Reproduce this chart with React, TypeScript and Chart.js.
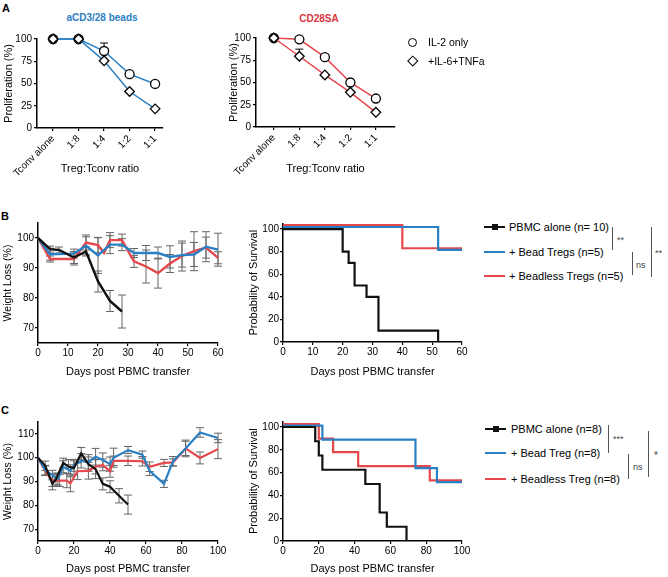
import React, { useEffect, useRef } from "react";
import { Chart, registerables } from "chart.js";
Chart.register(...registerables);

const FONT = "'Liberation Sans', Arial, Helvetica, sans-serif";
const BLUE = "#2a80c4";
const RED = "#e5474b";
const BLACK = "#111111";

// ---------- Panel A data ----------
const ratioLabels = ["Tconv alone", "1:8", "1:4", "1:2", "1:1"];
const ratioPos = [0, 1, 2, 3, 4];
const beadsIL2 = [100, 100, 86.5, 60.5, 49.5];
const beadsIL2Err = [0, 0, 9, 0, 2];
const beadsIL6 = [100, 100, 75.5, 41, 21.5];
const saIL2 = [100, 98.5, 78.5, 50, 32];
const saIL6 = [100, 79.5, 58.5, 39, 16.5];
const saIL6Err = [0, 8, 0, 0, 0];
const propTicks = [0, 25, 50, 75, 100];

// ---------- Panel B data ----------
const blackDaysB = [0, 4, 7, 12, 16, 20, 24, 28];
const blackWeightB = [100, 96.3, 96, 93.5, 95.5, 85.5, 79, 75.5];
const blackErrB = [0, 1, 1, 2, 1.5, 3.5, 3.5, 5.5];
const blueDaysB = [0, 4, 12, 16, 20, 24, 28, 32, 36, 40, 44, 48, 52, 56, 60];
const blueWeightB = [100, 94.6, 94.8, 97.4, 94.2, 97.8, 97.8, 95, 95, 95, 93.7, 94.3, 94.5, 97.1, 96.1];
const blueErrB = [0, 2, 1.5, 3, 6, 3, 2, 1.5, 2.5, 2, 3.7, 4, 4, 5, 5.5];
const redDaysB = [0, 4, 12, 16, 20, 22, 24, 28, 32, 36, 40, 44, 48, 52, 56, 60];
const redWeightB = [100, 93, 93, 98.5, 97.6, 95, 99.3, 99.3, 92.2, 90.5, 88.3, 91.5, 94, 95.6, 96.8, 93.4];
const redErrB = [0, 1, 2, 2.5, 2.5, 0, 2.5, 2, 2, 5.5, 5, 3, 5, 6.5, 3.5, 2];
const weightTicksB = [70, 80, 90, 100];
const dayTicksB = [0, 10, 20, 30, 40, 50, 60];

const blackSurvDaysB = [0, 20, 22, 24, 28, 32, 52];
const blackSurvB = [100, 80, 70, 50, 40, 10, 0];
const blueSurvDaysB = [0, 52, 60];
const blueSurvB = [101.8, 81.5, 81.5];
const redSurvDaysB = [0, 40, 60];
const redSurvB = [103.5, 83, 83];
const survTicks = [0, 20, 40, 60, 80, 100];

// ---------- Panel C data ----------
const blackDaysC = [0, 4, 8, 10, 14, 17, 20, 24, 28, 32, 36, 40, 45, 50];
const blackWeightC = [100, 96.6, 89, 91, 97.8, 96.2, 95.7, 101.8, 97.3, 95.2, 89, 87.8, 84, 80.3];
const blackErrC = [0, 2, 2.5, 2.5, 2, 3, 3, 2.5, 3, 4, 2.5, 2.5, 3, 4];
const blueDaysC = [0, 4, 8, 11, 14, 18, 20, 24, 28, 32, 36, 40, 42, 50, 58, 62, 70, 75, 82, 90, 100];
const blueWeightC = [100, 94.8, 92.7, 91, 96.2, 94.5, 96.8, 98.7, 98.3, 100.4, 99, 97.3, 100, 103.2, 101.3, 94.5, 89, 98.5, 103.9, 110.6, 108.3];
const blueErrC = [0, 2, 2, 2.5, 2.5, 2.5, 2.5, 3, 3, 3.5, 3, 3, 4, 1.5, 1.5, 2, 1.5, 2, 3.5, 2, 2];
const redDaysC = [0, 4, 8, 12, 16, 18, 22, 28, 32, 36, 40, 42, 50, 58, 62, 70, 75, 82, 90, 100];
const redWeightC = [100, 94.5, 90.4, 90.4, 90.4, 89.2, 94.3, 94.5, 96.2, 97, 94.3, 98.7, 98.7, 98.5, 96.2, 97.8, 98, 103.9, 99.9, 103.6];
const redErrC = [0, 2, 2.5, 2.5, 3, 3.5, 3.5, 3.5, 3, 2.5, 2.5, 2, 2, 2, 2, 1.5, 1.5, 3, 2.5, 4];
const weightTicksC = [70, 80, 90, 100, 110];
const dayTicksC = [0, 20, 40, 60, 80, 100];

const blackSurvDaysC = [0, 18, 20, 22, 46, 54, 58, 69];
const blackSurvC = [100, 87.5, 75, 62.5, 50, 25, 12.5, 0];
const blueSurvDaysC = [0, 22, 74, 86, 100];
const blueSurvC = [101.2, 89, 64, 51.7, 51.7];
const redSurvDaysC = [0, 20, 28, 42, 82, 100];
const redSurvC = [102.6, 89.8, 78, 65.6, 53.2, 53.2];

const pts = (xs: number[], ys: number[]) => xs.map((x, i) => ({ x, y: ys[i] }));

const errorBarPlugin = {
  id: "errorBars",
  beforeDatasetsDraw(chart: any) {
    const ctx = chart.ctx;
    const ys = chart.scales.y;
    chart.data.datasets.forEach((ds: any, i: number) => {
      const errs = ds.errors;
      if (!errs) return;
      const meta = chart.getDatasetMeta(i);
      ctx.save();
      ctx.strokeStyle = ds.errorColor || "#555";
      ctx.lineWidth = 1;
      meta.data.forEach((pt: any, j: number) => {
        const e = errs[j];
        if (!e) return;
        const raw = ds.data[j];
        const v = typeof raw === "number" ? raw : raw.y;
        const top = ys.getPixelForValue(v + e);
        const bot = ds.errorUpOnly ? pt.y : ys.getPixelForValue(v - e);
        const x = pt.x;
        const w = ds.capWidth ?? 4;
        ctx.beginPath();
        ctx.moveTo(x, top);
        ctx.lineTo(x, bot);
        ctx.moveTo(x - w, top);
        ctx.lineTo(x + w, top);
        if (!ds.errorUpOnly) {
          ctx.moveTo(x - w, bot);
          ctx.lineTo(x + w, bot);
        }
        ctx.stroke();
      });
      ctx.restore();
    });
  },
};

type Cfg = {
  datasets: any[];
  xMin: number; xMax: number; xTicks: number[]; xLabels?: string[]; xRotate?: boolean;
  yMin: number; yMax: number; yTicks: number[];
  yWidth: number; xHeight: number; padTop: number; padRight: number;
  xTitle: string; yTitle: string; titleSize: number; tickSize: number; tickPad: number; xTitleSize?: number;
};

function buildConfig(p: Cfg): any {
  const gridCommon = { display: true, drawOnChartArea: false, drawTicks: true, tickLength: 3, color: "#000", lineWidth: 1.2 };
  return {
    type: "line",
    data: { datasets: p.datasets },
    plugins: [errorBarPlugin],
    options: {
      responsive: false,
      animation: false,
      events: [],
      layout: { padding: { top: p.padTop, right: p.padRight, left: 0, bottom: 0 } },
      plugins: { legend: { display: false }, tooltip: { enabled: false } },
      scales: {
        x: {
          type: "linear",
          min: p.xMin,
          max: p.xMax,
          afterBuildTicks: (s: any) => { s.ticks = p.xTicks.map((v) => ({ value: v })); },
          afterFit: (s: any) => { s.height = p.xHeight; },
          grid: gridCommon,
          border: { display: true, color: "#000", width: 1.5 },
          ticks: {
            color: "#000",
            font: { family: FONT, size: p.tickSize },
            padding: p.tickPad,
            autoSkip: false,
            minRotation: p.xRotate ? 45 : 0,
            maxRotation: p.xRotate ? 45 : 0,
            callback: (v: any) => (p.xLabels ? p.xLabels[v] ?? "" : String(v)),
          },
          title: { display: true, text: p.xTitle, color: "#000", font: { family: FONT, size: p.xTitleSize ?? p.titleSize }, padding: { top: 0, bottom: 1 } },
        },
        y: {
          type: "linear",
          min: p.yMin,
          max: p.yMax,
          afterBuildTicks: (s: any) => { s.ticks = p.yTicks.map((v) => ({ value: v })); },
          afterFit: (s: any) => { s.width = p.yWidth; },
          grid: gridCommon,
          border: { display: true, color: "#000", width: 1.5 },
          ticks: { color: "#000", font: { family: FONT, size: p.tickSize }, padding: p.tickPad },
          title: { display: true, text: p.yTitle, color: "#000", font: { family: FONT, size: p.titleSize }, padding: { top: 2, bottom: 0 } },
        },
      },
    },
  };
}

function ChartBox({ left, top, width, height, config }: { left: number; top: number; width: number; height: number; config: any }) {
  const ref = useRef<HTMLCanvasElement | null>(null);
  useEffect(() => {
    const c = new Chart(ref.current as HTMLCanvasElement, config);
    return () => c.destroy();
  }, []);
  return <canvas ref={ref} width={width} height={height} style={{ position: "absolute", left, top, width, height }} />;
}

const lineDs = (xs: number[], ys: number[], color: string, width: number, extra: any = {}) => ({
  data: pts(xs, ys),
  borderColor: color,
  borderWidth: width,
  pointRadius: 0,
  fill: false,
  tension: 0,
  clip: false,
  ...extra,
});

const markerDs = (ys: number[], color: string, style: string, radius: number, extra: any = {}) => ({
  data: pts(ratioPos, ys),
  borderColor: color,
  borderWidth: 1.5,
  pointStyle: style,
  pointRadius: radius,
  pointBackgroundColor: "#fff",
  pointBorderColor: "#000",
  pointBorderWidth: 1.3,
  fill: false,
  tension: 0,
  clip: false,
  ...extra,
});

function Txt({ x, y, children, size = 11, bold = false, color = "#000", center = false }: any) {
  return (
    <div
      style={{
        position: "absolute",
        left: x,
        top: y,
        transform: center ? "translate(-50%,-50%)" : "translate(0,-50%)",
        fontSize: size,
        fontWeight: bold ? 700 : 400,
        color,
        whiteSpace: "nowrap",
        lineHeight: 1,
        fontFamily: FONT,
      }}
    >
      {children}
    </div>
  );
}

function VLine({ x, y1, y2 }: any) {
  return <div style={{ position: "absolute", left: x, top: y1, width: 1, height: y2 - y1, background: "#555" }} />;
}

function LegLine({ x, y, color, square = false }: any) {
  return (
    <>
      <div style={{ position: "absolute", left: x, top: y - 1, width: 21, height: 2.2, background: color }} />
      {square && <div style={{ position: "absolute", left: x + 7.5, top: y - 3, width: 6, height: 6, background: color }} />}
    </>
  );
}

export default function App() {
  const aLeft = buildConfig({
    datasets: [
      markerDs(beadsIL6, BLUE, "rectRot", 4.8),
      markerDs(beadsIL2, BLUE, "circle", 4.5, { errors: beadsIL2Err, errorUpOnly: true, errorColor: "#000", capWidth: 4 }),
    ],
    xMin: -0.63, xMax: 4.31, xTicks: ratioPos, xLabels: ratioLabels, xRotate: true,
    yMin: 0, yMax: 100, yTicks: propTicks,
    yWidth: 37, xHeight: 49, padTop: 9, padRight: 22,
    xTitle: "Treg:Tconv ratio", yTitle: "Proliferation (%)", titleSize: 11, tickSize: 10, tickPad: 2,
  });
  const aRight = buildConfig({
    datasets: [
      markerDs(saIL6, RED, "rectRot", 4.8, { errors: saIL6Err, errorUpOnly: true, errorColor: "#000", capWidth: 4 }),
      markerDs(saIL2, RED, "circle", 4.5),
    ],
    xMin: -0.7, xMax: 4.75, xTicks: ratioPos, xLabels: ratioLabels, xRotate: true,
    yMin: 0, yMax: 100, yTicks: propTicks,
    yWidth: 31, xHeight: 50, padTop: 7, padRight: 25,
    xTitle: "Treg:Tconv ratio", yTitle: "Proliferation (%)", titleSize: 11, tickSize: 10, tickPad: 2,
  });
  const bLeft = buildConfig({
    datasets: [
      lineDs(blackDaysB, blackWeightB, BLACK, 2.4, { errors: blackErrB, errorColor: "#666" }),
      lineDs(blueDaysB, blueWeightB, BLUE, 2.4, { errors: blueErrB, errorColor: "#666" }),
      lineDs(redDaysB, redWeightB, RED, 2.4, { errors: redErrB, errorColor: "#666" }),
    ],
    xMin: 0, xMax: 60, xTicks: dayTicksB,
    yMin: 65, yMax: 105, yTicks: weightTicksB,
    yWidth: 38, xHeight: 37, padTop: 13, padRight: 22,
    xTitle: "Days post PBMC transfer", yTitle: "Weight Loss (%)", titleSize: 10.5, xTitleSize: 11, tickSize: 10, tickPad: 1,
  });
  const bRight = buildConfig({
    datasets: [
      lineDs(blackSurvDaysB, blackSurvB, BLACK, 2.2, { stepped: "before" }),
      lineDs(blueSurvDaysB, blueSurvB, BLUE, 2.2, { stepped: "before" }),
      lineDs(redSurvDaysB, redSurvB, RED, 2.2, { stepped: "before" }),
    ],
    xMin: 0, xMax: 60, xTicks: dayTicksB,
    yMin: 0, yMax: 105, yTicks: survTicks,
    yWidth: 38, xHeight: 38, padTop: 13.4, padRight: 13,
    xTitle: "Days post PBMC transfer", yTitle: "Probability of Survival", titleSize: 11, tickSize: 10, tickPad: 1,
  });
  const cLeft = buildConfig({
    datasets: [
      lineDs(blackDaysC, blackWeightC, BLACK, 2.2, { errors: blackErrC, errorColor: "#666" }),
      lineDs(blueDaysC, blueWeightC, BLUE, 2.2, { errors: blueErrC, errorColor: "#666" }),
      lineDs(redDaysC, redWeightC, RED, 2.2, { errors: redErrC, errorColor: "#666" }),
    ],
    xMin: 0, xMax: 100, xTicks: dayTicksC,
    yMin: 65, yMax: 115, yTicks: weightTicksC,
    yWidth: 38, xHeight: 36, padTop: 17, padRight: 22,
    xTitle: "Days post PBMC transfer", yTitle: "Weight Loss (%)", titleSize: 10.5, xTitleSize: 11, tickSize: 10, tickPad: 1,
  });
  const cRight = buildConfig({
    datasets: [
      lineDs(blackSurvDaysC, blackSurvC, BLACK, 2.2, { stepped: "before" }),
      lineDs(blueSurvDaysC, blueSurvC, BLUE, 2.2, { stepped: "before" }),
      lineDs(redSurvDaysC, redSurvC, RED, 2.2, { stepped: "before" }),
    ],
    xMin: 0, xMax: 100, xTicks: dayTicksC,
    yMin: 0, yMax: 105, yTicks: survTicks,
    yWidth: 38, xHeight: 36, padTop: 16.3, padRight: 13,
    xTitle: "Days post PBMC transfer", yTitle: "Probability of Survival", titleSize: 11, tickSize: 10, tickPad: 1,
  });

  return (
    <div style={{ position: "absolute", left: 0, top: 0, width: 668, height: 577, background: "#fff", overflow: "hidden", fontFamily: FONT }}>
      {/* Panel A */}
      <Txt x={2} y={8} size={11} bold>A</Txt>
      <Txt x={102} y={18} size={10} bold color={BLUE} center>aCD3/28 beads</Txt>
      <Txt x={319} y={19} size={10} bold color="#d9363e" center>CD28SA</Txt>
      <ChartBox left={0} top={30} width={185} height={147} config={aLeft} />
      <ChartBox left={225} top={30} width={195} height={147} config={aRight} />
      <div style={{ position: "absolute", left: 408, top: 37.5, width: 7, height: 7, border: "1.3px solid #000", borderRadius: "50%", background: "#fff" }} />
      <div style={{ position: "absolute", left: 409, top: 56.5, width: 5.5, height: 5.5, border: "1.3px solid #000", transform: "rotate(45deg)", background: "#fff" }} />
      <Txt x={428} y={42} size={10.5}>IL-2 only</Txt>
      <Txt x={428} y={61} size={10.5}>+IL-6+TNFa</Txt>

      {/* Panel B */}
      <Txt x={1} y={216} size={11} bold>B</Txt>
      <ChartBox left={0} top={210} width={240} height={170} config={bLeft} />
      <ChartBox left={245} top={210} width={230} height={170} config={bRight} />
      <LegLine x={484} y={227} color={BLACK} square />
      <LegLine x={484} y={252} color={BLUE} />
      <LegLine x={484} y={276} color={RED} />
      <Txt x={509} y={227} size={11}>PBMC alone (n= 10)</Txt>
      <Txt x={509} y={252} size={11}>+ Bead Tregs (n=5)</Txt>
      <Txt x={509} y={276} size={11}>+ Beadless Tregs (n=5)</Txt>
      <VLine x={612} y1={227} y2={250} />
      <Txt x={617} y={240} size={9} color="#444">**</Txt>
      <VLine x={632} y1={252} y2={275} />
      <Txt x={636} y={265} size={9} color="#444">ns</Txt>
      <VLine x={651} y1={227} y2={277} />
      <Txt x={655} y={253} size={9} color="#444">**</Txt>

      {/* Panel C */}
      <Txt x={1} y={410} size={11} bold>C</Txt>
      <ChartBox left={0} top={405} width={240} height={172} config={cLeft} />
      <ChartBox left={245} top={405} width={230} height={172} config={cRight} />
      <LegLine x={485} y={429} color={BLACK} square />
      <LegLine x={485} y={453} color={BLUE} />
      <LegLine x={485} y={479} color={RED} />
      <Txt x={511} y={429} size={11}>PBMC alone (n=8)</Txt>
      <Txt x={511} y={453} size={11}>+ Bead Treg (n=8)</Txt>
      <Txt x={511} y={479} size={11}>+ Beadless Treg (n=8)</Txt>
      <VLine x={608} y1={425} y2={453} />
      <Txt x={613} y={439} size={9} color="#444">***</Txt>
      <VLine x={628} y1={454} y2={479} />
      <Txt x={633} y={467} size={9} color="#444">ns</Txt>
      <VLine x={648} y1={431} y2={477} />
      <Txt x={654} y={456} size={10} color="#444">*</Txt>
    </div>
  );
}
